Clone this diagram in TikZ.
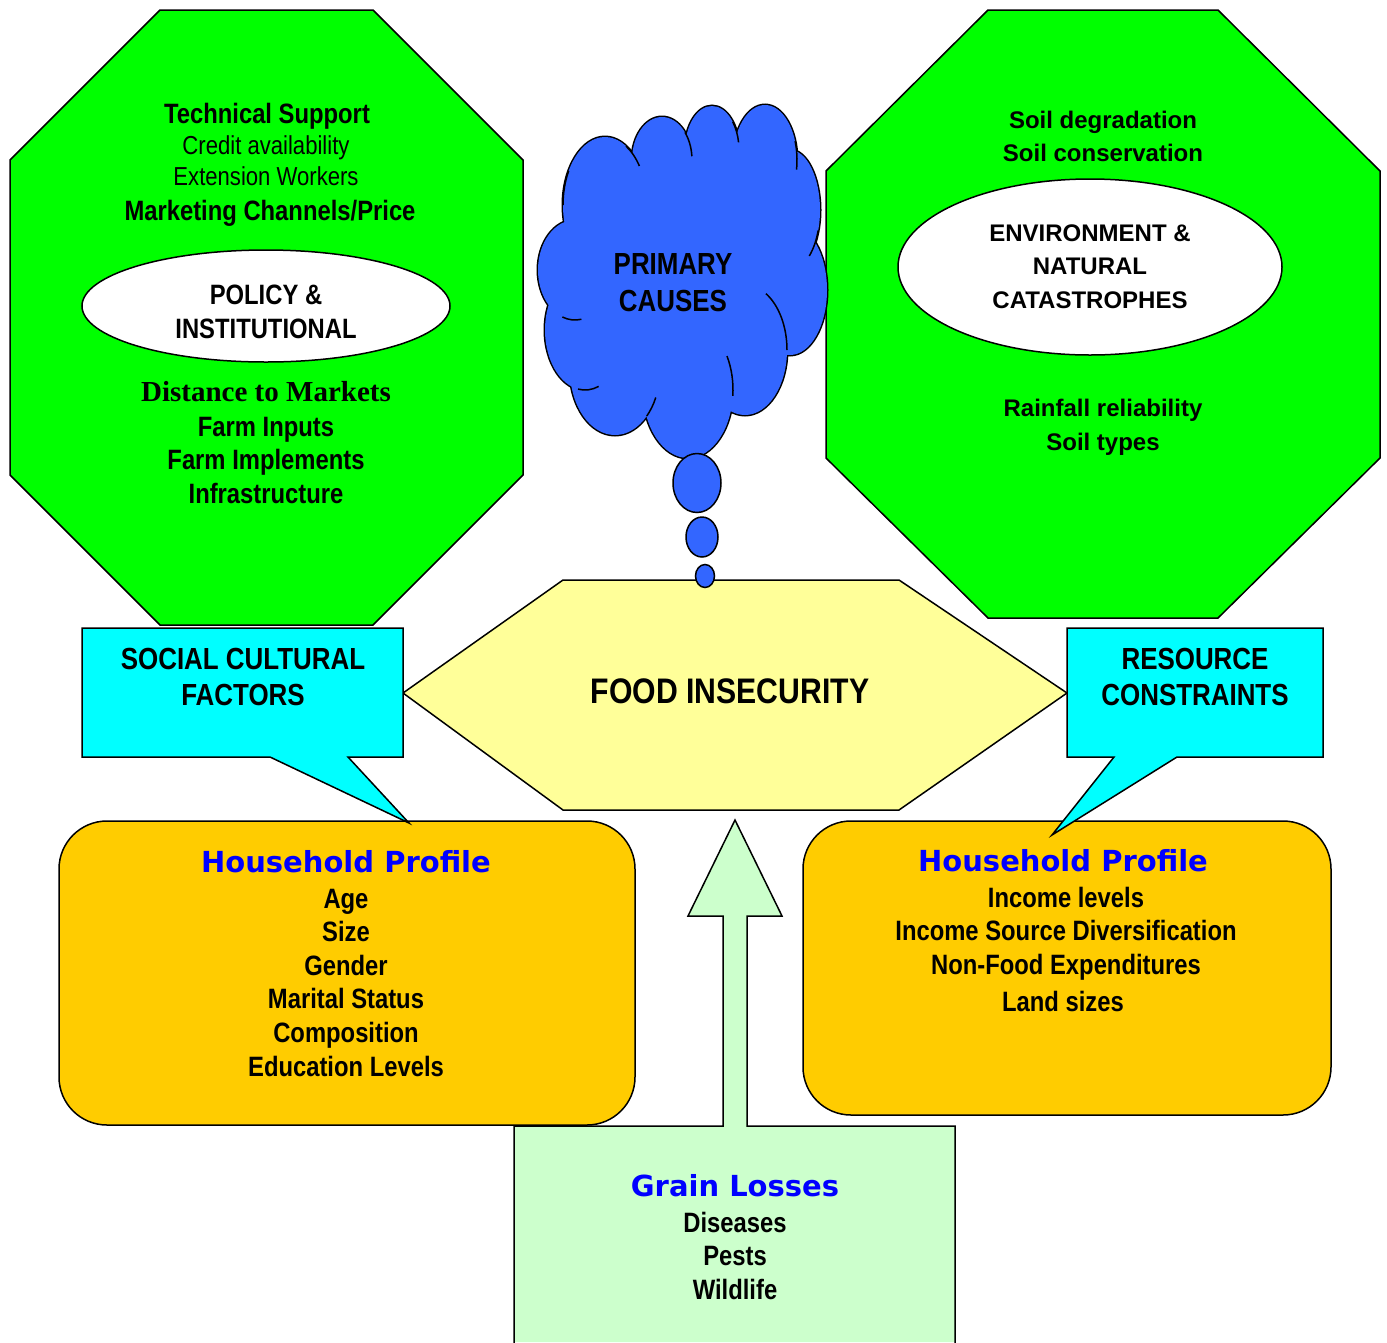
\documentclass[tikz,border=0pt]{standalone}
\usepackage{fontspec}
\setmainfont{Liberation Sans}
\newfontfamily\nar[FakeStretch=0.85]{Liberation Sans}
\newfontfamily\dvs{DejaVu Sans}
\newfontfamily\ser{Liberation Serif}
\definecolor{octgreen}{HTML}{00FF00}
\definecolor{callcyan}{HTML}{00FFFF}
\definecolor{hexyellow}{HTML}{FFFF99}
\definecolor{hhorange}{HTML}{FFCC00}
\definecolor{grainfill}{HTML}{CCFFCC}
\definecolor{cloudblue}{HTML}{3366FF}
\definecolor{headblue}{HTML}{0000FF}
\tikzset{
  shapeline/.style={draw=black, line width=1.5pt, line join=miter},
  txb/.style={anchor=base, inner sep=0pt, font=\nar\bfseries\fontsize{28}{33}\selectfont},
  txc/.style={anchor=base, inner sep=0pt, font=\nar\bfseries\fontsize{30.5}{36}\selectfont},
  txr/.style={anchor=base, inner sep=0pt, font=\nar\fontsize{26}{31}\selectfont},
  txw/.style={anchor=base, inner sep=0pt, font=\bfseries\fontsize{24}{29}\selectfont},
  txs/.style={anchor=base, inner sep=0pt, font=\ser\bfseries\fontsize{29}{34}\selectfont},
  txbig/.style={anchor=base, inner sep=0pt, font=\nar\bfseries\fontsize{35.5}{40}\selectfont},
  hdtx/.style={anchor=base, inner sep=0pt, text=headblue, font=\dvs\bfseries\fontsize{29}{34}\selectfont},
}
\begin{document}
\begin{tikzpicture}[x=1pt,y=-1pt]
\useasboundingbox (0,0) rectangle (1387,1342);

% ---------- left octagon ----------
\filldraw[shapeline, fill=octgreen] (160,10) -- (373,10) -- (523,160) -- (523,475) -- (373,625) -- (160,625) -- (10,475) -- (10,160) -- cycle;
\filldraw[shapeline, fill=white] (266,306) ellipse [x radius=184, y radius=56];
\node[txb] (ts) at (267,123) {Technical Support};
\node[txr] (ca) at (266,154) {Credit availability};
\node[txr] (ew) at (266,185) {Extension Workers};
\node[txb] (mc) at (270,220) {Marketing Channels/Price};
\node[txb] (pol) at (266,304) {POLICY \&};
\node[txb] (inst) at (266,338) {INSTITUTIONAL};
\node[txs] (dm) at (266,401) {Distance to Markets};
\node[txb] (fi) at (266,436) {Farm Inputs};
\node[txb] (fimp) at (266,469) {Farm Implements};
\node[txb] (infra) at (266,503) {Infrastructure};

% ---------- right octagon ----------
\filldraw[shapeline, fill=octgreen] (988,10) -- (1218,10) -- (1380,171) -- (1380,458) -- (1218,618) -- (988,618) -- (826,458) -- (826,171) -- cycle;
\filldraw[shapeline, fill=white] (1090,267) ellipse [x radius=192, y radius=88];
\node[txw] (sd) at (1103,128) {Soil degradation};
\node[txw] (sc) at (1103,161) {Soil conservation};
\node[txw] (env) at (1090,241) {ENVIRONMENT \&};
\node[txw] (nat) at (1090,274) {NATURAL};
\node[txw] (cat) at (1090,308) {CATASTROPHES};
\node[txw] (rr) at (1103,416) {Rainfall reliability};
\node[txw] (st) at (1103,450) {Soil types};

% ---------- food insecurity hexagon ----------
\filldraw[shapeline, fill=hexyellow] (403,693) -- (563,580) -- (899,580) -- (1067,693) -- (899,810) -- (563,810) -- cycle;
\node[txbig] (food) at (730,703) {FOOD INSECURITY};

% ---------- household boxes ----------
\filldraw[shapeline, fill=hhorange, rounded corners=48pt] (59,821) rectangle (635,1125);
\node[hdtx] (hp1) at (346,872) {Household Profile};
\node[txb] (age) at (346,908) {Age};
\node[txb] (size) at (346,941) {Size};
\node[txb] (gen) at (346,975) {Gender};
\node[txb] (mar) at (346,1008) {Marital Status};
\node[txb] (comp) at (346,1042) {Composition};
\node[txb] (edu) at (346,1076) {Education Levels};

\filldraw[shapeline, fill=hhorange, rounded corners=48pt] (803,821) rectangle (1331,1115);
\node[hdtx] (hp2) at (1063,871) {Household Profile};
\node[txb] (inc) at (1066,907) {Income levels};
\node[txb] (isd) at (1066,940) {Income Source Diversification};
\node[txb] (nfe) at (1066,974) {Non-Food Expenditures};
\node[txb] (land) at (1063,1011) {Land sizes};

% ---------- grain losses box with arrow ----------
\fill[grainfill] (514,1342) -- (514,1126) -- (723,1126) -- (723,916) -- (688,916) -- (735,820) -- (782,916) -- (747,916) -- (747,1126) -- (955,1126) -- (955,1342) -- cycle;
\draw[shapeline] (514,1345) -- (514,1126) -- (723,1126) -- (723,916) -- (688,916) -- (735,820) -- (782,916) -- (747,916) -- (747,1126) -- (955,1126) -- (955,1345);
\node[hdtx] (gl) at (735,1196) {Grain Losses};
\node[txb] (dis) at (735,1232) {Diseases};
\node[txb] (pests) at (735,1265) {Pests};
\node[txb] (wild) at (735,1299) {Wildlife};

% ---------- callouts ----------
\filldraw[shapeline, fill=callcyan] (82,628) -- (403,628) -- (403,757) -- (348,757) -- (409,823) -- (270,757) -- (82,757) -- cycle;
\node[txc] (soc1) at (243,669) {SOCIAL CULTURAL};
\node[txc] (soc2) at (243,705) {FACTORS};
\filldraw[shapeline, fill=callcyan] (1067,628) -- (1323,628) -- (1323,757) -- (1177,757) -- (1052,835) -- (1114,757) -- (1067,757) -- cycle;
\node[txc] (res1) at (1195,669) {RESOURCE};
\node[txc] (res2) at (1195,705) {CONSTRAINTS};

% ---------- cloud ----------
\foreach \cx/\cy/\rx/\ry in {605/205/42/68, 662/160/30/43, 712/150/27/44, 765/160/32/55, 790/210/30/60, 790/290/37/65, 745/350/42/65, 688/390/45/68, 615/370/45/65, 585/330/40/60, 575/270/37/50}
  \draw[draw=black, line width=3pt] (\cx,\cy) ellipse [x radius=\rx, y radius=\ry];
\foreach \cx/\cy/\rx/\ry in {605/205/42/68, 662/160/30/43, 712/150/27/44, 765/160/32/55, 790/210/30/60, 790/290/37/65, 745/350/42/65, 688/390/45/68, 615/370/45/65, 585/330/40/60, 575/270/37/50, 683/275/110/120}
  \fill[cloudblue] (\cx,\cy) ellipse [x radius=\rx, y radius=\ry];
\begin{scope}[draw=black, line width=1.5pt]
  \draw (745,350) ++(-60:42 and 65) arc[start angle=-60, end angle=0, x radius=42, y radius=65];
  \draw (605,205) ++(-60:42 and 68) arc[start angle=-60, end angle=-35, x radius=42, y radius=68];
  \draw (662,160) ++(-40:30 and 43) arc[start angle=-40, end angle=-5, x radius=30, y radius=43];
  \draw (712,150) ++(-40:27 and 44) arc[start angle=-40, end angle=-10, x radius=27, y radius=44];
  \draw (765,160) ++(-20:32 and 55) arc[start angle=-20, end angle=10, x radius=32, y radius=55];
  \draw (790,210) ++(20:30 and 60) arc[start angle=20, end angle=50, x radius=30, y radius=60];
  \draw (688,390) ++(-30:45 and 68) arc[start angle=-30, end angle=5, x radius=45, y radius=68];
  \draw (615,370) ++(25:45 and 65) arc[start angle=25, end angle=45, x radius=45, y radius=65];
  \draw (585,330) ++(70:40 and 60) arc[start angle=70, end angle=100, x radius=40, y radius=60];
  \draw (575,270) ++(80:37 and 50) arc[start angle=80, end angle=110, x radius=37, y radius=50];
  \draw (605,205) ++(180:42 and 68) arc[start angle=180, end angle=210, x radius=42, y radius=68];
\end{scope}
\filldraw[shapeline, fill=cloudblue] (697,483) ellipse [x radius=24, y radius=29.5];
\filldraw[shapeline, fill=cloudblue] (702,537) ellipse [x radius=16, y radius=20];
\filldraw[shapeline, fill=cloudblue] (705,576) ellipse [x radius=9.5, y radius=11.5];
\node[txc] (prim) at (673,274) {PRIMARY};
\node[txc] (caus) at (673,311) {CAUSES};
\end{tikzpicture}
\end{document}
